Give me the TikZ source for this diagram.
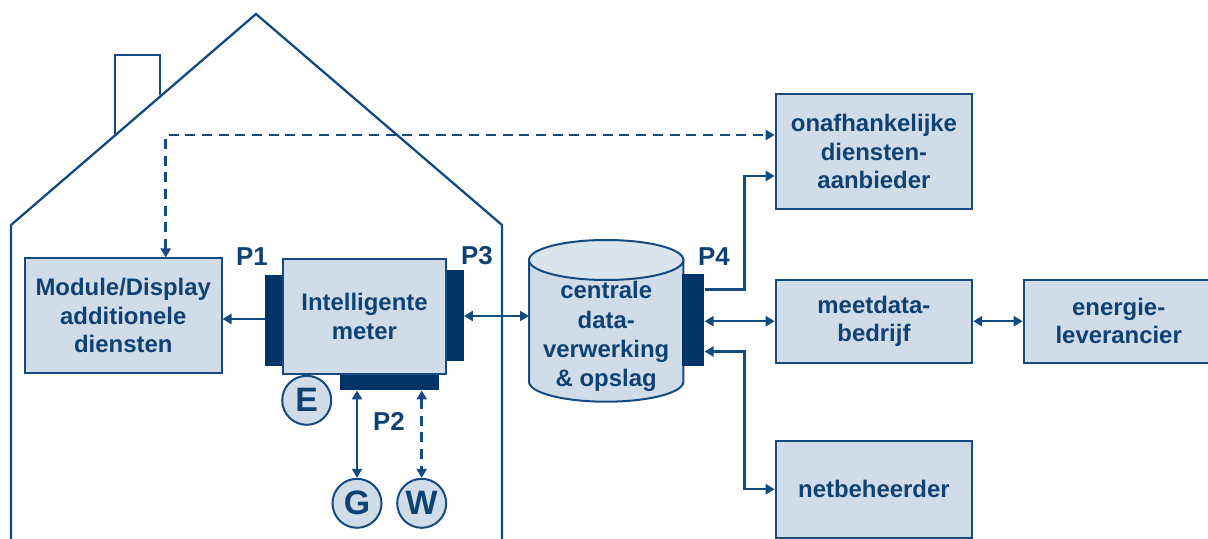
\documentclass[tikz,border=0pt]{standalone}
\usepackage{fontspec}
\setmainfont{Liberation Sans}
\usetikzlibrary{arrows.meta}
\definecolor{ink}{HTML}{0F4173}
\definecolor{edge}{HTML}{154A80}
\definecolor{panel}{HTML}{D0DCE7}
\definecolor{lid}{HTML}{DAE4ED}
\definecolor{bar}{HTML}{003366}
\tikzset{
  x=1bp,y=-1bp,
  labeltext/.style={font=\fontsize{24}{28.5}\selectfont\bfseries,text=ink,align=center,inner sep=0pt},
  box/.style={labeltext,draw=edge,fill=panel,line width=2bp,minimum width=#1,anchor=north west},
  portbar/.style={fill=bar,draw=none,inner sep=0pt,anchor=north west},
  port/.style={font=\fontsize{26}{28}\selectfont\bfseries,text=ink,inner sep=0pt},
  meterdisc/.style={circle,draw=edge,fill=panel,line width=2bp,inner sep=0pt,minimum size=49bp,
    font=\fontsize{34}{34}\selectfont\bfseries,text=ink},
  link/.style={draw=edge,line width=2.5bp,>={Triangle[length=9bp,width=10bp]}},
  dashlink/.style={link,dash pattern=on 10bp off 6.7bp},
  wall/.style={draw=edge,line width=2.3bp,line join=miter},
}
\begin{document}
\begin{tikzpicture}
\useasboundingbox (0,0) rectangle (1208,539);
% house
\draw[wall] (11,539) -- (11,225) -- (256,14) -- (502,225) -- (502,539);
\draw[wall] (115,135) -- (115,55) -- (160,55) -- (160,95);
% port bars (behind boxes)
\node[portbar,minimum width=18bp,minimum height=91bp] (p1bar) at (265,274.5) {};
\node[portbar,minimum width=18bp,minimum height=91bp] (p3bar) at (445.5,269.5) {};
\node[portbar,minimum width=99bp,minimum height=18bp] (p2bar) at (340,372) {};
% boxes
\node[box=196.5bp,minimum height=114bp] (module) at (24,257.5) {Module/Display\\additionele\\diensten};
\node[box=163bp,minimum height=114bp] (meter) at (282,258.5) {Intelligente\\meter};
\node[box=196.5bp,minimum height=114.5bp] (onaf) at (774.7,93.3) {onafhankelijke\\diensten-\\aanbieder};
\node[box=196.5bp,minimum height=83bp] (meet) at (774.7,278.7) {meetdata-\\bedrijf};
\node[box=196.5bp,minimum height=97bp] (net) at (774.7,439.7) {netbeheerder};
\node[box=190bp,minimum height=83bp] (energie) at (1022.7,278.7) {energie-\\leverancier};
% cylinder
\draw[draw=edge,fill=panel,line width=2bp] (529,260) -- (529,381.7) arc[start angle=180,end angle=360,x radius=77.2bp,y radius=20bp] -- (683.4,260) -- cycle;
\draw[draw=edge,fill=lid,line width=2bp] (606.2,260) ellipse[x radius=77.2bp,y radius=20bp];
\node[labeltext,font=\fontsize{24}{29.2}\selectfont\bfseries,minimum width=154bp,minimum height=162bp] (cyl) at (606.2,336.5) {centrale\\data-\\verwerking\\\&~opslag};
\node[portbar,minimum width=22.5bp,minimum height=91.5bp] (p4bar) at (681.7,274.3) {};
% port labels
\node[port] (p1) at (252,257) {P1};
\node[port] (p3) at (477,256) {P3};
\node[port] (p2) at (389,421) {P2};
\node[port] (p4) at (714,257) {P4};
% meters
\node[meterdisc] (e) at (306.7,400.3) {E};
\node[meterdisc] (g) at (357,503.3) {G};
\node[meterdisc] (w) at (421.7,503.3) {W};
% junction coordinates
\coordinate (dashcorner) at (165.7,135);
\coordinate (upbend) at (744.5,289.5);
\coordinate (lowbend) at (744.5,351.5);
% connectors
\draw[link,->] (p1bar.west |- 0,319) -- (module.east |- 0,319);
\draw[link,<->] (p3bar.east |- 0,316) -- (529,316);
\draw[link,<->] (g.north |- p2bar.south) -- (g.north);
\draw[dashlink,<->] (w.north |- p2bar.south) -- (w.north);
\draw[dashlink,<->] (dashcorner |- module.north) -- (dashcorner) -- (onaf.west |- dashcorner);
\draw[link,->] (p4bar.east |- upbend) -- (upbend) -- (upbend |- 0,176) -- (onaf.west |- 0,176);
\draw[link,<->] (p4bar.east |- meet.west) -- (meet.west);
\draw[link,<->] (meet.east) -- (energie.west);
\draw[link,<->] (p4bar.east |- lowbend) -- (lowbend) -- (lowbend |- net.west) -- (net.west);
\end{tikzpicture}
\end{document}
